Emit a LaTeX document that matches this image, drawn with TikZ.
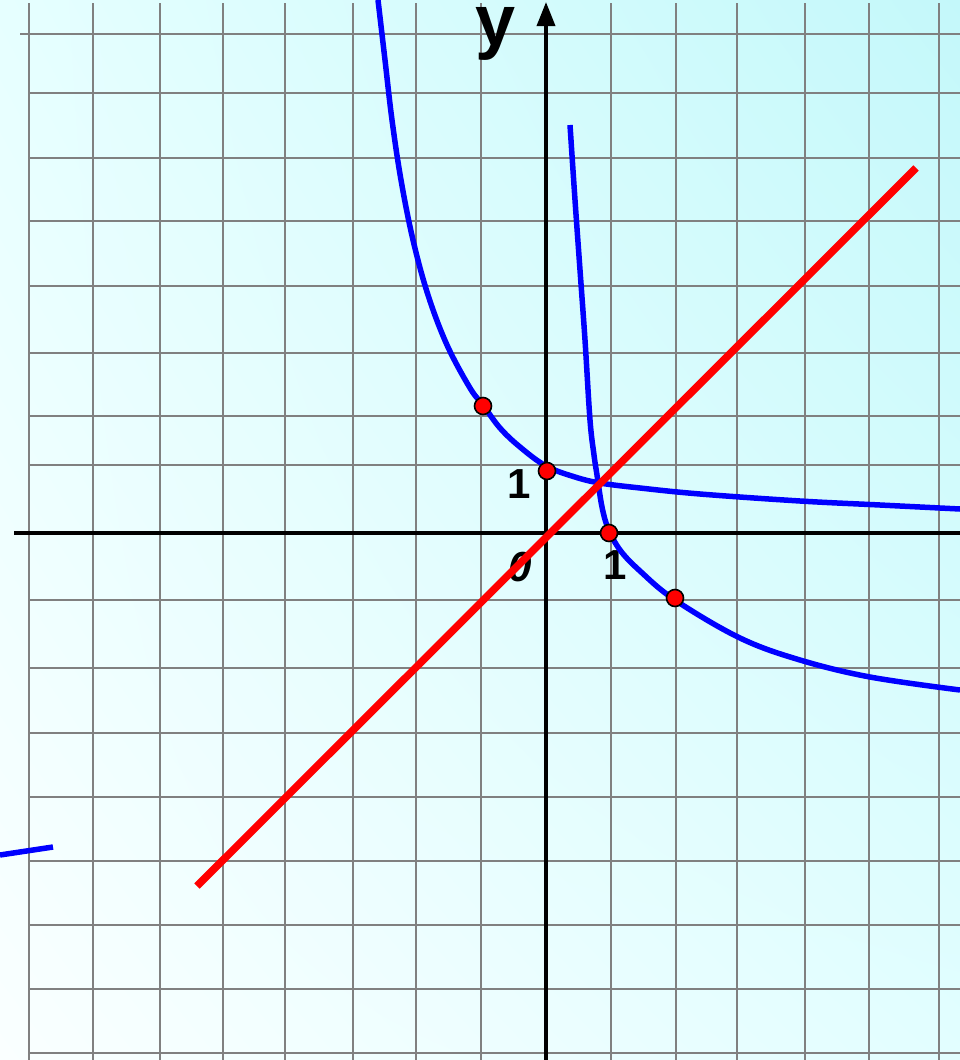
\documentclass[tikz,border=0pt]{standalone}
\usepackage{fontspec}
\setmainfont{Liberation Sans}
\usetikzlibrary{arrows.meta,shadings}
\definecolor{bgUL}{RGB}{230,255,255}
\definecolor{bgUR}{RGB}{196,248,250}
\definecolor{bgLL}{RGB}{250,255,255}
\definecolor{bgLR}{RGB}{226,254,255}
\definecolor{gridgray}{RGB}{128,128,128}
\begin{document}
\begin{tikzpicture}[x=1pt,y=-1pt,
  gridline/.style={gridgray,line width=2.4pt},
  axisline/.style={black,line width=3.5pt},
  curve/.style={blue,line width=5.5pt},
  redline/.style={red,line width=7.5pt},
  dot/.style={circle,fill=red,draw=black,line width=1.6pt,minimum size=17pt,inner sep=0pt},
  lbl/.style={font=\bfseries\fontsize{42}{42}\selectfont,inner sep=0pt,anchor=base},
]
\useasboundingbox (0,0) rectangle (960,1060);
\clip (0,0) rectangle (960,1060);
\shade[upper left=bgUL, upper right=bgUR, lower left=bgLL, lower right=bgLR] (0,0) rectangle (960,1060);
% grid
\foreach \x in {29,93,160,223,285,353,416,481,611,676,737,805,869,939}
  \draw[gridline] (\x,3) -- (\x,1060);
\draw[gridline] (20,34) -- (960,34);
\foreach \y in {93,158,221,286,353,416,465,600,668,733,797,861,925,989,1053}
  \draw[gridline] (29,\y) -- (960,\y);
% axes
\draw[axisline] (14,533) -- (960,533);
\draw[axisline,-{Triangle[length=24pt,width=18pt]}] (546,1060) -- (546,2);
% labels
\node[lbl,font=\bfseries\fontsize{72}{72}\selectfont] (ylab) at (496,45) {y};
\node[lbl] (one_y) at (519,498) {1};
\node[lbl,font=\bfseries\itshape\fontsize{42}{42}\selectfont] (zero) at (520,581) {0};
\node[lbl] (one_x) at (615,579) {1};
% exponential curve
\draw[curve] plot[smooth,tension=0.6] coordinates {(378,0) (385,60) (392,120) (401,180) (413,240) (428,295) (447,345) (470,388) (483,405) (500,428) (520,447) (546,466) (575,477) (600,483) (640,488) (700,494) (800,501) (880,505) (960,509)};
% logarithmic curve
\draw[curve] plot[smooth,tension=0.6] coordinates {(570,125) (575,200) (580,270) (585,340) (590,420) (594,455) (597,475) (602,507) (608,528) (620,550) (640,571) (675,600) (740,638) (800,660) (870,677) (960,690)};
% small fragment
\coordinate (fa) at (0,855);
\coordinate (fb) at (53,847);
\draw[curve] (fa) -- (fb);
% y = x
\coordinate (ra) at (197,886);
\coordinate (rb) at (916,168);
\draw[redline] (ra) -- (rb);
% points
\node[dot] (p1) at (483,406) {};
\node[dot] (p2) at (547,471) {};
\node[dot] (p3) at (609,533) {};
\node[dot] (p4) at (675,598) {};
\end{tikzpicture}
\end{document}
